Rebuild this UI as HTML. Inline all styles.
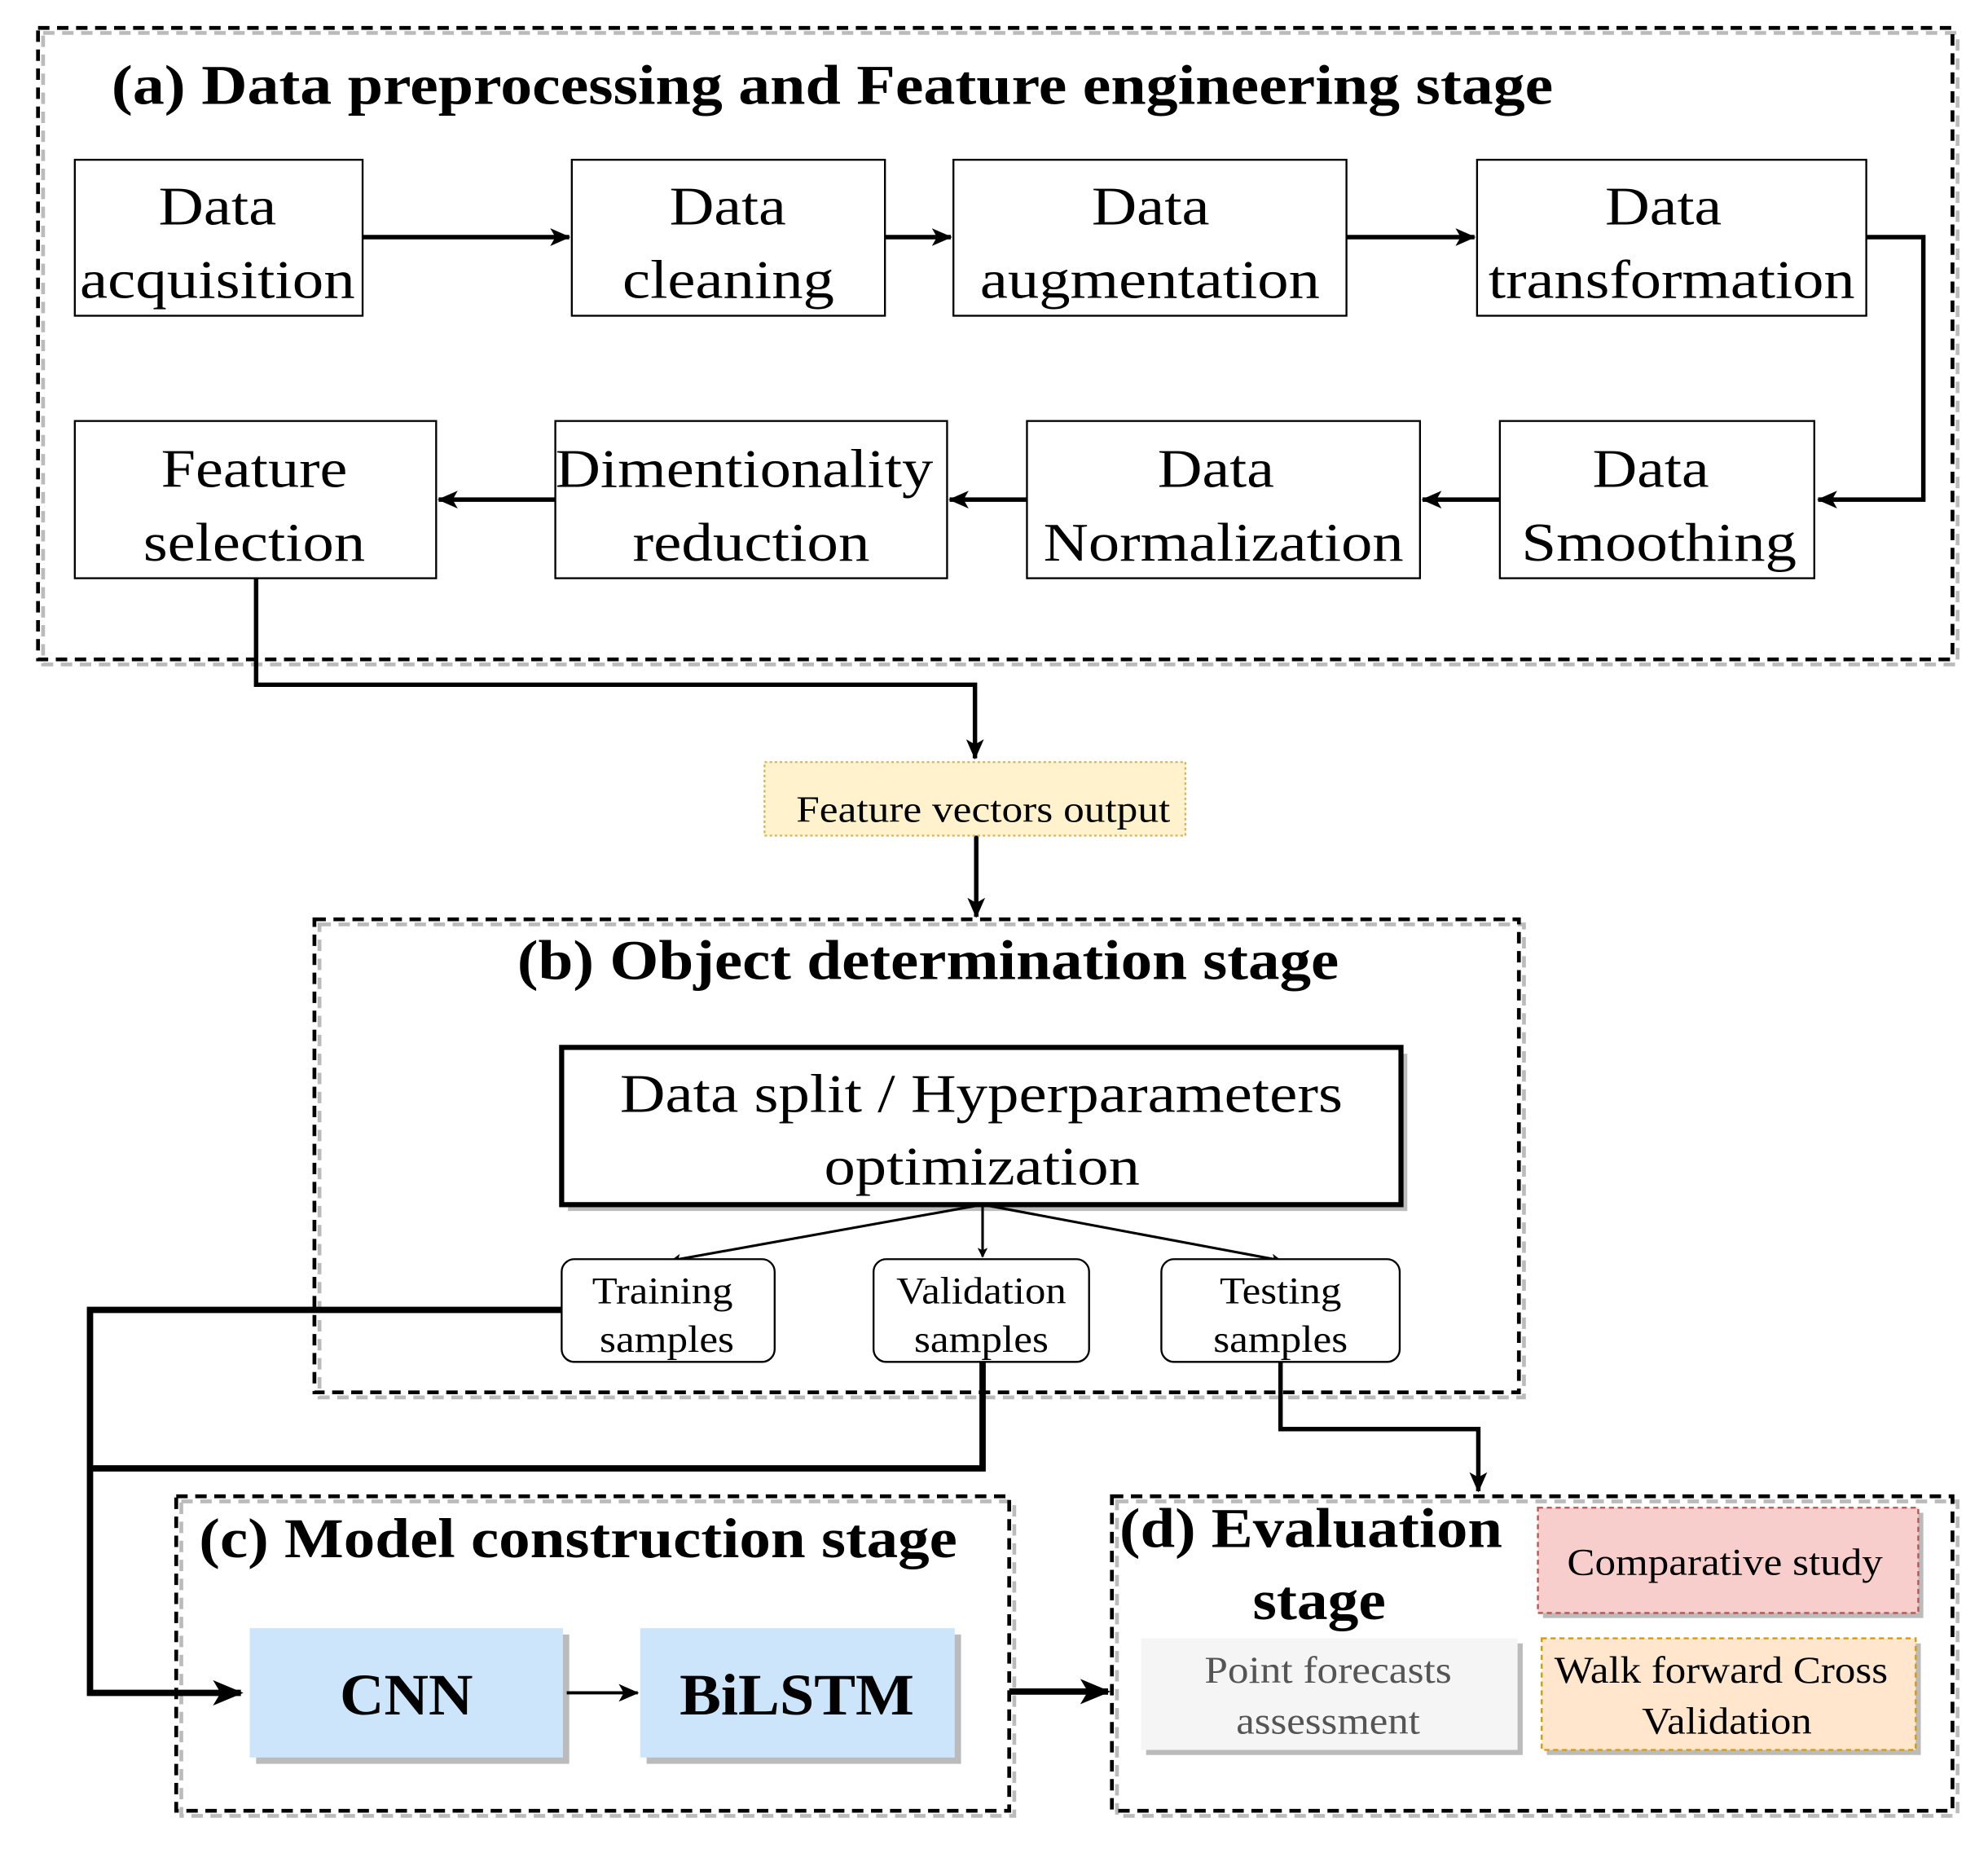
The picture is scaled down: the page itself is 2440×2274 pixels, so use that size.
<!DOCTYPE html>
<html><head><style>html,body{margin:0;padding:0;background:#fff}svg{display:block}</style></head>
<body>
<svg width="2440" height="2274" viewBox="0 0 1568 1461.3" preserveAspectRatio="none" xmlns="http://www.w3.org/2000/svg" font-family="Liberation Serif, serif">
<defs>
<marker id="ah" markerWidth="8" markerHeight="8" refX="7" refY="4" orient="auto" markerUnits="userSpaceOnUse"><path d="M0,0 L8,4 L0,8 L2,4 Z" fill="#000"/></marker>
<marker id="ab" markerWidth="24" markerHeight="20" refX="22" refY="10" orient="auto" markerUnits="userSpaceOnUse"><path d="M0,0 L24,10 L0,20 L6,10 Z" fill="#000"/></marker>
<marker id="as" markerWidth="16" markerHeight="14" refX="15" refY="7" orient="auto" markerUnits="userSpaceOnUse"><path d="M0,0 L16,7 L0,14 L4,7 Z" fill="#000"/></marker>
</defs>
<g fill="none" stroke="#bbb" stroke-width="3" stroke-dasharray="9,6">
<rect x="34" y="26" width="1510" height="498"/>
<rect x="252" y="729" width="950" height="373"/>
<rect x="143" y="1184" width="657" height="248"/>
<rect x="881" y="1184" width="663" height="248"/>
</g>
<g fill="none" stroke="#000" stroke-width="3" stroke-dasharray="9,6">
<rect x="30" y="22" width="1510" height="498"/>
<rect x="248" y="725" width="950" height="373"/>
<rect x="139" y="1180" width="657" height="248"/>
<rect x="877" y="1180" width="663" height="248"/>
</g>
<g font-weight="bold" font-size="44">
<text x="88" y="82" textLength="1137" lengthAdjust="spacingAndGlyphs">(a) Data preprocessing  and Feature engineering stage</text>
<text x="408" y="772" textLength="648" lengthAdjust="spacingAndGlyphs">(b) Object determination stage</text>
<text x="157" y="1228" textLength="598" lengthAdjust="spacingAndGlyphs">(c) Model construction stage</text>
<text x="883" y="1220" textLength="302" lengthAdjust="spacingAndGlyphs">(d) Evaluation</text>
<text x="988" y="1277" textLength="105" lengthAdjust="spacingAndGlyphs">stage</text>
</g>
<g fill="#fff" stroke="#000" stroke-width="1.5">
<rect x="59" y="126" width="227" height="123"/>
<rect x="451" y="126" width="247" height="123"/>
<rect x="752" y="126" width="310" height="123"/>
<rect x="1165" y="126" width="307" height="123"/>
<rect x="59" y="332" width="285" height="124"/>
<rect x="438" y="332" width="309" height="124"/>
<rect x="810" y="332" width="310" height="124"/>
<rect x="1183" y="332" width="248" height="124"/>
</g>
<g font-size="43">
<text x="125" y="177" textLength="93" lengthAdjust="spacingAndGlyphs">Data</text><text x="63" y="235" textLength="217" lengthAdjust="spacingAndGlyphs">acquisition</text>
<text x="528" y="177" textLength="92" lengthAdjust="spacingAndGlyphs">Data</text><text x="491" y="235" textLength="167" lengthAdjust="spacingAndGlyphs">cleaning</text>
<text x="861" y="177" textLength="93" lengthAdjust="spacingAndGlyphs">Data</text><text x="773" y="235" textLength="268" lengthAdjust="spacingAndGlyphs">augmentation</text>
<text x="1266" y="177" textLength="92" lengthAdjust="spacingAndGlyphs">Data</text><text x="1174" y="235" textLength="289" lengthAdjust="spacingAndGlyphs">transformation</text>
<text x="127" y="384" textLength="147" lengthAdjust="spacingAndGlyphs">Feature</text><text x="113" y="442" textLength="175" lengthAdjust="spacingAndGlyphs">selection</text>
<text x="438" y="384" textLength="298" lengthAdjust="spacingAndGlyphs">Dimentionality</text><text x="499" y="442" textLength="187" lengthAdjust="spacingAndGlyphs">reduction</text>
<text x="913" y="384" textLength="92" lengthAdjust="spacingAndGlyphs">Data</text><text x="823" y="442" textLength="284" lengthAdjust="spacingAndGlyphs">Normalization</text>
<text x="1256" y="384" textLength="92" lengthAdjust="spacingAndGlyphs">Data</text><text x="1200" y="442" textLength="217" lengthAdjust="spacingAndGlyphs">Smoothing</text>
</g>
<g fill="none" stroke="#000" stroke-width="3.5">
<path d="M286,187 H449" marker-end="url(#as)"/>
<path d="M698,187 H750" marker-end="url(#as)"/>
<path d="M1062,187 H1163" marker-end="url(#as)"/>
<path d="M1472,187 H1517 V394 H1434" marker-end="url(#as)"/>
<path d="M1183,394 H1122" marker-end="url(#as)"/>
<path d="M810,394 H749" marker-end="url(#as)"/>
<path d="M438,394 H346" marker-end="url(#as)"/>
<path d="M202,456 V540 H769 V598" marker-end="url(#as)"/>
<path d="M770,659 V723" marker-end="url(#as)"/>
</g>
<rect x="603" y="601" width="332" height="58" fill="#fff2cc" stroke="#d6b656" stroke-width="1.5" stroke-dasharray="2,2"/>
<text x="628" y="648" font-size="29" textLength="295" lengthAdjust="spacingAndGlyphs">Feature vectors output</text>
<rect x="448" y="831" width="662" height="124" fill="#bbb"/>
<rect x="443" y="826" width="662" height="124" fill="#fff" stroke="#000" stroke-width="4"/>
<text x="489" y="877" font-size="43" textLength="570" lengthAdjust="spacingAndGlyphs">Data split / Hyperparameters</text>
<text x="650" y="934" font-size="43" textLength="249" lengthAdjust="spacingAndGlyphs">optimization</text>
<g fill="none" stroke="#000" stroke-width="2">
<path d="M775,950 L530,994" marker-end="url(#ah)"/>
<path d="M775,950 V991" marker-end="url(#ah)"/>
<path d="M775,950 L1010,994" marker-end="url(#ah)"/>
</g>
<g fill="#fff" stroke="#000" stroke-width="1.5">
<rect x="443" y="993" width="168" height="81" rx="10"/>
<rect x="689" y="993" width="170" height="81" rx="10"/>
<rect x="916" y="993" width="188" height="81" rx="10"/>
</g>
<g font-size="30">
<text x="467" y="1028" textLength="111" lengthAdjust="spacingAndGlyphs">Training</text><text x="473" y="1066" textLength="106" lengthAdjust="spacingAndGlyphs">samples</text>
<text x="707" y="1028" textLength="134" lengthAdjust="spacingAndGlyphs">Validation</text><text x="721" y="1066" textLength="106" lengthAdjust="spacingAndGlyphs">samples</text>
<text x="962" y="1028" textLength="96" lengthAdjust="spacingAndGlyphs">Testing</text><text x="957" y="1066" textLength="106" lengthAdjust="spacingAndGlyphs">samples</text>
</g>
<g fill="none" stroke="#000" stroke-width="5">
<path d="M443,1033 H71 V1335 H190" marker-end="url(#ab)"/>
<path d="M775,1074 V1158 H71"/>
<path d="M796,1334 H874" marker-end="url(#ab)"/>
</g>
<path d="M1010,1074 V1127 H1166 V1176" fill="none" stroke="#000" stroke-width="3.5" marker-end="url(#as)"/>
<rect x="202" y="1289" width="247" height="102" fill="#bbb"/>
<rect x="197" y="1284" width="247" height="102" fill="#cce5fb"/>
<rect x="510" y="1289" width="248" height="102" fill="#bbb"/>
<rect x="505" y="1284" width="248" height="102" fill="#cce5fb"/>
<g font-size="46" font-weight="bold">
<text x="268" y="1352" textLength="105" lengthAdjust="spacingAndGlyphs">CNN</text><text x="536" y="1352" textLength="185" lengthAdjust="spacingAndGlyphs">BiLSTM</text>
</g>
<path d="M447,1335 H503" fill="none" stroke="#000" stroke-width="2.5" marker-end="url(#as)"/>
<rect x="1217" y="1193" width="300" height="83" fill="#bbb"/>
<rect x="1213" y="1189" width="300" height="83" fill="#f8cecc" stroke="#b85450" stroke-width="1.5" stroke-dasharray="4,3"/>
<text x="1236" y="1242" font-size="30" textLength="249" lengthAdjust="spacingAndGlyphs">Comparative study</text>
<rect x="904" y="1296" width="297" height="88" fill="#bbb"/>
<rect x="900" y="1292" width="297" height="88" fill="#f5f5f5"/>
<text x="950" y="1327" font-size="30" fill="#555" textLength="195" lengthAdjust="spacingAndGlyphs">Point forecasts</text>
<text x="975" y="1367" font-size="30" fill="#555" textLength="145" lengthAdjust="spacingAndGlyphs">assessment</text>
<rect x="1220" y="1296" width="295" height="88" fill="#bbb"/>
<rect x="1216" y="1292" width="295" height="88" fill="#ffe6cc" stroke="#d79b00" stroke-width="1.5" stroke-dasharray="4,3"/>
<text x="1226" y="1327" font-size="30" textLength="263" lengthAdjust="spacingAndGlyphs">Walk forward Cross</text>
<text x="1295" y="1367" font-size="30" textLength="134" lengthAdjust="spacingAndGlyphs">Validation</text>
</svg>
</body></html>
